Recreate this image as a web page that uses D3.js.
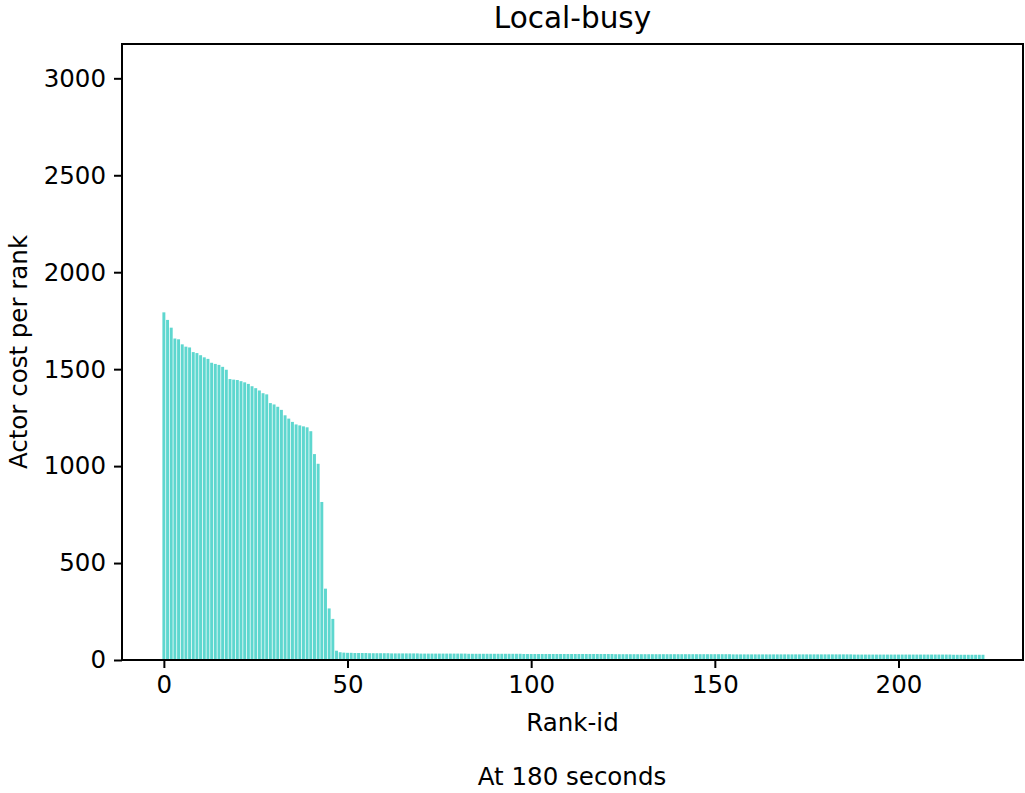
<!DOCTYPE html>
<html lang="en">
<head>
    <meta charset="UTF-8">
    <title>Local-busy</title>
    <style>
        body {
            margin: 0;
            background-color: white;
            font-family: "DejaVu Sans", sans-serif;
        }
        .axis text {
            font-size: 24.5px;
            font-family: "DejaVu Sans", sans-serif;
            fill: black;
        }
        .axis path, .axis line {
            stroke: black;
            stroke-width: 2;
        }
    </style>
    <script src="https://d3js.org/d3.v7.min.js"></script>
</head>
<body>
<div id="chart"></div>
<script>
    // Actor cost per rank
    const headCost = [1793, 1754, 1714, 1658, 1654, 1628, 1616, 1612, 1588, 1583,
                      1572, 1561, 1553, 1533, 1527, 1522, 1512, 1497, 1449, 1446,
                      1444, 1438, 1432, 1424, 1412, 1402, 1390, 1376, 1370, 1325,
                      1318, 1306, 1290, 1262, 1245, 1228, 1215, 1210, 1205, 1200,
                      1180, 1062, 1012, 815, 368, 266, 212, 48];
    const tailCost = [40, 38,
                      37, 37, 36, 36, 36, 36, 35, 35, 35, 35,
                      35, 35, 34, 34, 34, 34, 34, 34, 34, 34,
                      33, 33, 33, 33, 33, 33, 33, 33, 33, 33,
                      33, 33, 33, 32, 32, 32, 32, 32, 32, 32,
                      32, 32, 32, 32, 32, 32, 32, 32, 31, 31,
                      31, 31, 31, 31, 31, 31, 31, 31, 31, 31,
                      31, 31, 31, 31, 31, 31, 31, 31, 31, 31,
                      31, 31, 31, 30, 30, 30, 30, 30, 30, 30,
                      30, 30, 30, 30, 30, 30, 30, 30, 30, 30,
                      30, 30, 30, 30, 30, 30, 30, 30, 30, 30,
                      30, 30, 30, 30, 30, 29, 29, 29, 29, 29,
                      29, 29, 29, 29, 29, 29, 29, 29, 29, 29,
                      29, 29, 29, 29, 29, 29, 29, 29, 29, 29,
                      29, 29, 29, 29, 29, 29, 29, 29, 28, 28,
                      28, 28, 28, 28, 28, 28, 28, 28, 28, 28,
                      28, 28, 28, 28, 28, 28, 28, 28, 28, 28,
                      28, 28, 28, 28, 28, 27, 27, 27, 27, 27,
                      27, 27, 27, 27];
    const cost = headCost.concat(tailCost);
    const rankIds = cost.map((c, i) => i);

    const xTicks = [0, 50, 100, 150, 200];
    const yTicks = [0, 500, 1000, 1500, 2000, 2500, 3000];

    const W = 1025, H = 793;
    const plot = { left: 122, right: 1023, top: 44, bottom: 660 };

    const svg = d3.select("#chart").append("svg")
        .attr("width", W)
        .attr("height", H);

    // matplotlib-like limits: 5% padding on x, zero baseline on y
    const x = d3.scaleLinear()
        .domain([-11.4, 233.9])
        .range([plot.left, plot.right]);

    const y = d3.scaleLinear()
        .domain([0, 3177])
        .range([plot.bottom, plot.top]);

    // Bars (width 0.8 in data units)
    svg.append("g")
        .selectAll("rect")
        .data(rankIds)
        .enter().append("rect")
        .attr("x", d => x(d - 0.4))
        .attr("width", x(0.8) - x(0))
        .attr("y", d => y(cost[d]))
        .attr("height", d => y(0) - y(cost[d]))
        .attr("fill", "#5ed7cf");

    // Axes
    svg.append("g")
        .attr("class", "axis")
        .attr("transform", `translate(0,${plot.bottom})`)
        .call(d3.axisBottom(x).tickValues(xTicks).tickFormat(d3.format("d"))
            .tickSize(8).tickPadding(8).tickSizeOuter(0))
        .call(g => g.select(".domain").remove());

    svg.append("g")
        .attr("class", "axis")
        .attr("transform", `translate(${plot.left},0)`)
        .call(d3.axisLeft(y).tickValues(yTicks).tickFormat(d3.format("d"))
            .tickSize(8).tickPadding(8).tickSizeOuter(0))
        .call(g => g.select(".domain").remove());

    // Frame
    svg.append("rect")
        .attr("x", plot.left)
        .attr("y", plot.top)
        .attr("width", plot.right - plot.left)
        .attr("height", plot.bottom - plot.top)
        .attr("fill", "none")
        .attr("stroke", "black")
        .attr("stroke-width", 2);

    // Title and labels
    svg.append("text")
        .attr("x", (plot.left + plot.right) / 2)
        .attr("y", 28)
        .attr("text-anchor", "middle")
        .style("font-size", "29.5px")
        .text("Local-busy");

    svg.append("text")
        .attr("x", (plot.left + plot.right) / 2)
        .attr("y", 731)
        .attr("text-anchor", "middle")
        .style("font-size", "24.5px")
        .text("Rank-id");

    svg.append("text")
        .attr("transform", `translate(27,${(plot.top + plot.bottom) / 2}) rotate(-90)`)
        .attr("text-anchor", "middle")
        .style("font-size", "24.5px")
        .text("Actor cost per rank");

    svg.append("text")
        .attr("x", 572)
        .attr("y", 785)
        .attr("text-anchor", "middle")
        .style("font-size", "24.5px")
        .text("At 180 seconds");
</script>
</body>
</html>
